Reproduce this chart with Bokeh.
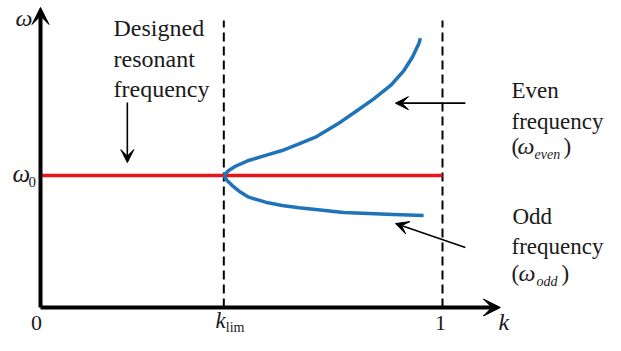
from bokeh.plotting import figure
from bokeh.models import Arrow, VeeHead, Label, Range1d
from bokeh.embed import file_html
from bokeh.resources import INLINE

# ---- data ----
k_lim = 0.456
w0 = 1.0
k_one = 1.0
tick_k = [0.0, k_lim, 1.0]
tick_labels = ["0", "k", "1"]

k_even = [0.456, 0.468, 0.485, 0.518, 0.560, 0.601, 0.643, 0.684, 0.746,
          0.788, 0.829, 0.871, 0.904, 0.925, 0.941, 0.945]
w_even = [1.000, 1.038, 1.070, 1.114, 1.152, 1.189, 1.240, 1.290, 1.404,
          1.492, 1.581, 1.682, 1.795, 1.896, 1.998, 2.040]

k_odd = [0.456, 0.464, 0.477, 0.498, 0.518, 0.560, 0.601, 0.643, 0.684,
         0.754, 0.878, 0.953]
w_odd = [1.000, 0.962, 0.924, 0.873, 0.836, 0.798, 0.773, 0.755, 0.742,
         0.720, 0.705, 0.697]

k_axis_end = 1.144
w_axis_end = 2.273
w_dash_top = 2.174

# ---- layout ----
W, H = 605, 335
DY = -5.0            # vertical shift (px) of the whole drawing
PX_K = 402.0         # screen px per unit k
PX_W = 132.0         # screen px per unit omega
x0 = -40.0 / PX_K
x1 = x0 + W / PX_K
y1 = (312.0 + DY) / PX_W
y0 = y1 - H / PX_W

p = figure(width=W, height=H, output_backend="svg", toolbar_location=None,
           x_range=Range1d(x0, x1), y_range=Range1d(y0, y1),
           min_border=0, outline_line_color=None)
p.axis.visible = False
p.grid.visible = False
p.background_fill_color = "white"
p.border_fill_color = "white"


def kx(px):
    return x0 + px / PX_K


def wy(py):
    return y1 - (py + DY) / PX_W


SERIF = "'Liberation Serif', 'Times New Roman', serif"

# dashed verticals
for kk in [k_lim, k_one]:
    p.line([kk, kk], [0, w_dash_top], line_color="black", line_width=2, line_dash="9 5")

# red line
p.line([0, k_one], [w0, w0], line_color="#e8151b", line_width=3.5)

# blue branches
p.line(k_even, w_even, line_color="#1f73b7", line_width=3.5, line_join="round")
p.line(k_odd, w_odd, line_color="#1f73b7", line_width=3.5, line_join="round")

# axes
p.add_layout(Arrow(end=VeeHead(size=17, fill_color="black", line_color="black"),
                   x_start=0, y_start=0, x_end=k_axis_end, y_end=0,
                   line_color="black", line_width=4))
p.add_layout(Arrow(end=VeeHead(size=17, fill_color="black", line_color="black"),
                   x_start=0, y_start=0, x_end=0, y_end=w_axis_end,
                   line_color="black", line_width=4))


def pointer(xs, ys, xe, ye):
    p.add_layout(Arrow(end=VeeHead(size=13, fill_color="black", line_color="black"),
                       x_start=xs, y_start=ys, x_end=xe, y_end=ye,
                       line_color="black", line_width=1.6))


pointer(0.216, 1.553, 0.216, 1.098)
pointer(1.057, 1.548, 0.883, 1.548)
pointer(1.057, 0.455, 0.883, 0.636)


def lab(text, px, py, size=24, style="normal", align="left", x=None):
    # py: wanted baseline in reference pixels; Bokeh draws ~0.33 em lower
    p.add_layout(Label(x=kx(px) if x is None else x, y=wy(py - 0.33 * size), text=text,
                       text_font=SERIF, text_font_size=f"{size}px",
                       text_font_style=style, text_align=align,
                       text_baseline="alphabetic", text_color="#1a1a1a"))


# tick labels on the k axis
lab(tick_labels[0], 0, 335, size=22, align="center", x=tick_k[0] - 0.01)
lab(tick_labels[1], 0, 333, size=23, style="italic", align="right", x=tick_k[1] + 0.005)
lab("lim", 0, 337, size=14, align="left", x=tick_k[1] + 0.005)
lab(tick_labels[2], 0, 335, size=22, align="center", x=tick_k[2] - 0.005)
lab("k", 498, 334, size=24, style="italic")

# omega axis labels
lab("ω", 15, 30, size=24, style="italic")
lab("ω", 12, 186, size=25, style="italic")
lab("0", 28, 191, size=15)

# annotation texts
lab("Designed", 113, 40)
lab("resonant", 113, 71)
lab("frequency", 113, 101)

lab("Even", 511, 103, size=23)
lab("frequency", 511, 134, size=23)
lab("(", 511, 159, size=23)
lab("ω", 517, 158, size=24, style="italic")
lab("even", 534, 164, size=14, style="italic")
lab(")", 563, 159, size=23)

lab("Odd", 512, 229, size=23)
lab("frequency", 511, 259, size=23)
lab("(", 511, 286, size=23)
lab("ω", 518, 285, size=24, style="italic")
lab("odd", 536, 291, size=14, style="italic")
lab(")", 561, 286, size=23)

open("out.html", "w").write(file_html(p, INLINE))
